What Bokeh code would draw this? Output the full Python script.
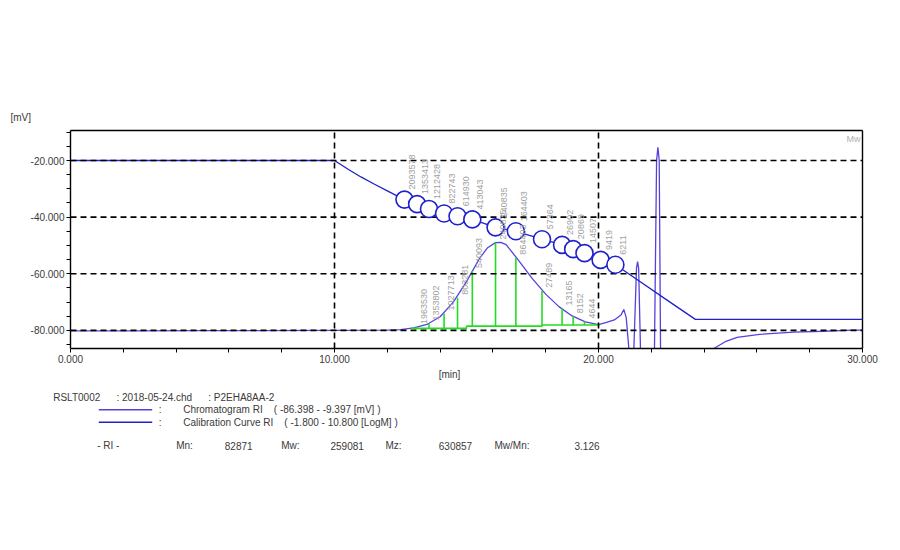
import math
from bokeh.plotting import figure
from bokeh.models import Range1d, FixedTicker, NumeralTickFormatter
from bokeh.core.properties import value
from bokeh.embed import file_html
from bokeh.resources import INLINE

FONT = "Liberation Sans"
NAN = float("nan")
SP = "\u00a0"

# ---------------- data ----------------
# Chromatogram RI (time [min], signal [mV]); NaN = trace off scale
chrom_t = [0, 2, 5, 10, 12.0, 12.5, 13.0, 13.5, 14.0, 14.5, 15.0, 15.5, 15.8, 16.1, 16.3,
           16.5, 17.0, 17.5, 18.0, 18.5, 19.0, 19.5, 20.0, 20.3, 20.6, 20.85, 20.96, 21.05,
           21.15, NAN, 21.34, 21.44, 21.48, 21.52, 21.59, NAN, 22.12, 22.2, 22.25, 22.3,
           22.35, NAN, 24.37, 24.8, 25.25, 26.1, 27.4, 28.5, 29.65, 30.0]
chrom_v = [-80.2, -80.2, -80.1, -80.0, -79.9, -79.7, -79.1, -77.9, -75.2, -70.0, -62.8, -54.5,
           -50.8, -49.0, -48.9, -49.7, -55.6, -61.8, -67.2, -71.6, -74.9, -77.0, -78.0, -77.2,
           -76.3, -74.6, -72.6, -75.5, -86.4, NAN, -86.4, -58.0, -55.7, -58.0, -86.4, NAN,
           -86.4, -20.0, -15.3, -20.0, -86.4, NAN, -86.4, -84.0, -82.5, -81.4, -80.6, -80.3,
           -79.9, -79.9]

# Calibration curve RI (drawn on the mV scale)
cal_t = [0, 10.0, 10.5, 11.0, 11.5, 12.0, 12.65, 13.13, 13.58, 14.15, 14.66, 15.22, 16.10,
         16.87, 17.86, 18.62, 19.04, 19.47, 20.08, 20.64, 21.5, 22.5, 23.67, 30.0]
cal_v = [-20.0, -20.0, -23.0, -25.8, -28.3, -30.7, -33.8, -35.4, -37.1, -38.7, -39.7, -40.8,
         -43.6, -45.0, -47.8, -49.8, -51.3, -52.7, -55.1, -56.8, -62.3, -68.7, -76.1, -76.1]

# slice marks on the calibration curve
slice_t = [12.65, 13.13, 13.58, 14.15, 14.66, 15.22, 16.10, 16.87, 17.86, 18.62, 19.04,
           19.47, 20.08, 20.64]
slice_v = [-33.8, -35.4, -37.1, -38.7, -39.7, -40.8, -43.6, -45.0, -47.8, -49.8, -51.3,
           -52.7, -55.1, -56.8]
slice_labels = ["2093578", "1353413", "1212428", "822743", "614930", "413043", "240835",
                "164403", "57364", "26902", "20869", "14507", "9419", "6211"]

# green slice lines under the peak
peak_t = [13.13, 13.58, 14.15, 14.66, 15.22, 16.10, 16.87, 17.86, 18.62, 19.04, 19.47]
peak_top = [-78.8, -77.6, -74.0, -68.5, -59.0, -49.0, -54.3, -66.0, -72.3, -75.0, -76.9]
peak_base = [-79.3, -79.3, -79.3, -79.3, -78.5, -78.5, -78.5, -78.1, -78.1, -78.1, -78.1]
peak_labels = ["1963530", "1353802", "1027713", "803281", "540093", "240835", "864403",
               "27489", "13165", "8152", "4644"]

# baseline of the peak (stepped)
base_t = [12.9, 15.0, 15.0, 17.86, 17.86, 20.05]
base_v = [-79.3, -79.3, -78.5, -78.5, -78.1, -78.1]

x_ticks = [0, 10, 20, 30]
x_minor = [2, 4, 6, 8, 12, 14, 16, 18, 22, 24, 26, 28]
x_grid = [10, 20]
y_ticks = [-80, -60, -40, -20]
y_minor = [-85, -75, -70, -65, -55, -50, -45, -35, -30, -25, -15, -10]
x_min, x_max = 0.0, 30.0
y_min, y_max = -86.398, -9.397

header_text = ["RSLT0002", ": 2018-05-24.chd", ": P2EHA8AA-2"]
legend_names = ["Chromatogram RI" + SP * 4 + "(" + SP + "-86.398" + SP + "-" + SP
                + "-9.397" + SP + "[mV]" + SP + ")",
                "Calibration Curve RI" + SP * 4 + "(" + SP + "-1.800" + SP + "-" + SP
                + "10.800" + SP + "[LogM]" + SP + ")"]
stat_names = ["- RI -", "Mn:", "82871", "Mw:", "259081", "Mz:", "630857", "Mw/Mn:", "3.126"]

CHROM_COL = "#5542dc"
CAL_COL = "#2020cc"
GREEN = "#22dd22"
TXT = "#3a3a3a"
GRAY = "#a0a0a0"

# ---------------- layout (page pixels) ----------------
W, H = 884, 534
FL, FR, FT, FB = 70, 862, 130, 348      # the plotting box on the page
SX = (FR - FL) / (x_max - x_min)
SY = (FB - FT) / (y_max - y_min)


def px2x(px):
    return x_min + (px - FL) / SX


def py2y(py):
    return y_min - (py - FB) / SY


p = figure(width=W, height=H,
           x_range=Range1d(px2x(0), px2x(W)), y_range=Range1d(py2y(H), py2y(0)),
           output_backend="svg", toolbar_location=None, min_border=0,
           min_border_left=0, min_border_right=0, min_border_top=0, min_border_bottom=0)
p.outline_line_color = None
p.grid.visible = False

for ax in (p.xaxis[0], p.yaxis[0]):
    ax.axis_line_color = "black"
    ax.axis_line_width = 1.4
    ax.major_tick_line_color = "black"
    ax.minor_tick_line_color = "black"
    ax.major_tick_in = 0
    ax.major_tick_out = 4
    ax.minor_tick_in = 0
    ax.minor_tick_out = 4
    ax.major_label_text_font = FONT
    ax.major_label_text_font_size = "10px"
    ax.major_label_text_color = TXT
    ax.major_label_standoff = 2
    ax.formatter = NumeralTickFormatter(format="0.000")

p.xaxis[0].ticker = FixedTicker(ticks=x_ticks, minor_ticks=x_minor)
p.yaxis[0].ticker = FixedTicker(ticks=y_ticks, minor_ticks=y_minor)
p.xaxis[0].fixed_location = y_min
p.yaxis[0].fixed_location = x_min
p.xaxis[0].bounds = (x_min, x_max)
p.yaxis[0].bounds = (y_min, y_max)

# top and right edges of the plotting box
p.segment(x0=[x_min, x_max], y0=[y_max, y_min], x1=[x_max, x_max], y1=[y_max, y_max],
          line_color="black", line_width=1.4)

# chromatogram
p.line(chrom_t, chrom_v, line_color=CHROM_COL, line_width=1.3)
# calibration curve
p.line(cal_t, cal_v, line_color=CAL_COL, line_width=1.3)

# green baseline and slice lines
p.line(base_t, base_v, line_color=GREEN, line_width=1.6)
p.segment(x0=peak_t, y0=peak_base, x1=peak_t, y1=peak_top, line_color=GREEN, line_width=1.6)

# dashed grid lines (drawn over the traces)
p.segment(x0=x_grid, y0=[y_min] * len(x_grid), x1=x_grid, y1=[y_max] * len(x_grid),
          line_color="black", line_width=1.6, line_dash="6 4")
p.segment(x0=[x_min] * len(y_ticks), y0=y_ticks, x1=[x_max] * len(y_ticks), y1=y_ticks,
          line_color="black", line_width=1.6, line_dash="6 4")

# slice markers on the calibration curve
p.scatter(x=slice_t, y=slice_v, size=17, marker="circle", line_color=CAL_COL,
          line_width=1.6, fill_color="white")

# labels
p.text(x=slice_t, y=slice_v, text=slice_labels, angle=math.pi / 2, text_align="left",
       text_baseline="middle", x_offset=8, y_offset=-10, text_font=value(FONT),
       text_font_size="9px", text_color=GRAY)
p.text(x=peak_t, y=peak_top, text=peak_labels, angle=math.pi / 2, text_align="left",
       text_baseline="middle", x_offset=7, y_offset=-3, text_font=value(FONT),
       text_font_size="9px", text_color=GRAY)

p.text(x=[x_max], y=[y_max], text=["Mw"], text_align="right", text_baseline="top",
       x_offset=-2, y_offset=3, text_font=value(FONT), text_font_size="9px",
       text_color="#b0b0b0")


def ptxt(pxs, pys, texts, align="left"):
    p.text(x=[px2x(v) for v in pxs], y=[py2y(v) for v in pys], text=texts,
           text_font=value(FONT), text_font_size="10px", text_color=TXT,
           text_align=align, text_baseline="middle")


ptxt([10], [117], ["[mV]"])
ptxt([449], [374], ["[min]"], align="center")
ptxt([52.7, 116, 207.7], [397.3] * 3, header_text)
leg_y = [409.3, 421.7]
p.segment(x0=[px2x(98.3)] * 2, y0=[py2y(v) for v in leg_y],
          x1=[px2x(151.7)] * 2, y1=[py2y(v) for v in leg_y],
          line_color=[CHROM_COL, CAL_COL], line_width=1.6)
ptxt([158.3, 158.3], leg_y, [":", ":"])
ptxt([182.7, 182.7], leg_y, legend_names)
ptxt([96.7, 175.7, 224.3, 280.7, 330, 385, 438.3, 494, 574], [445] * 9, stat_names)

open("out.html", "w").write(file_html(p, INLINE))
